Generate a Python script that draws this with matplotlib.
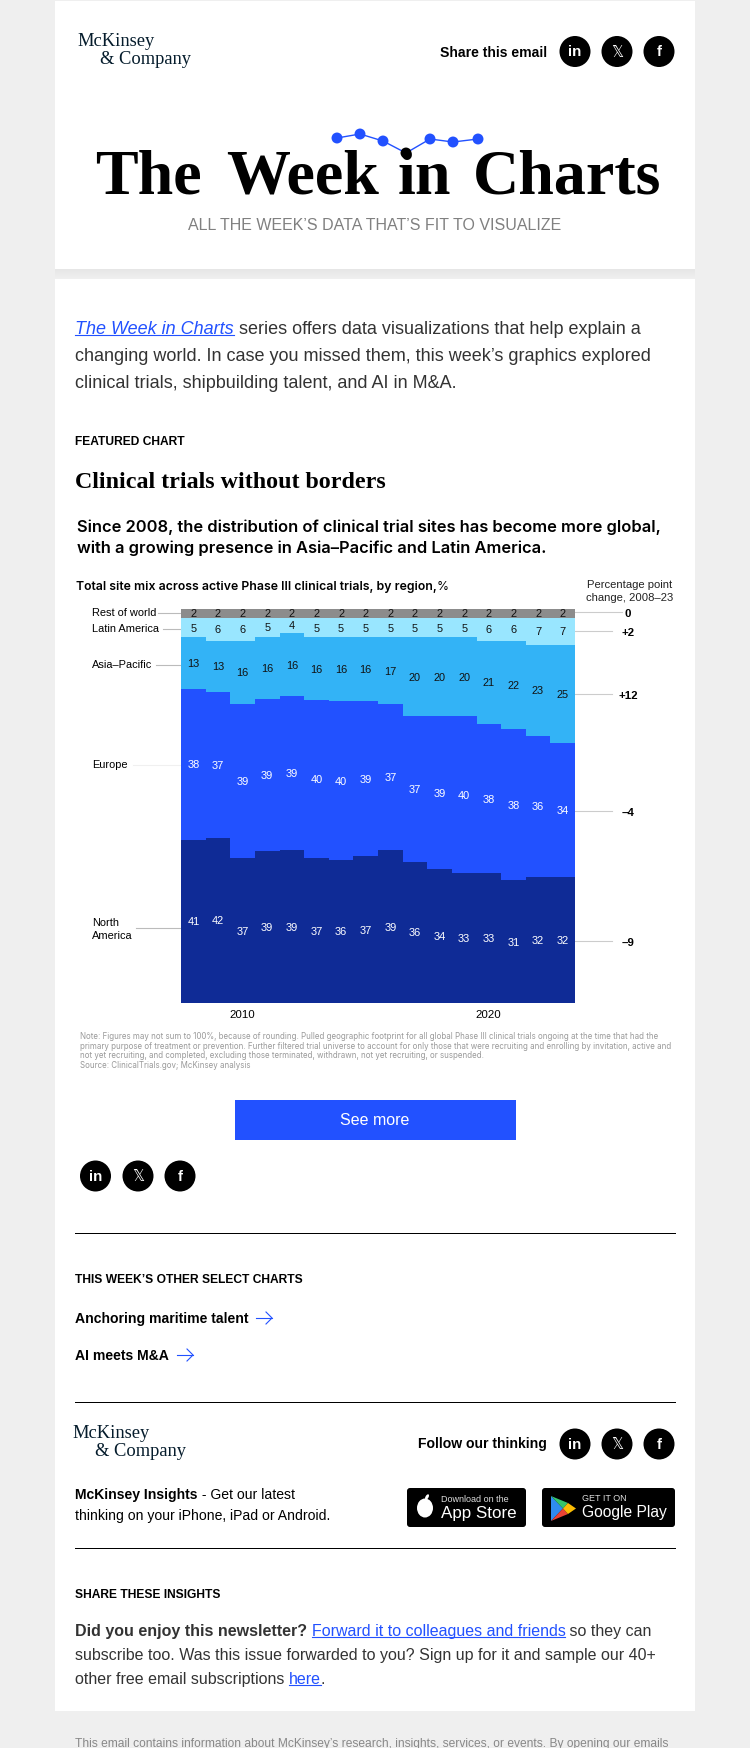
import matplotlib
matplotlib.use('Agg')
import matplotlib.pyplot as plt
from matplotlib.patches import Circle, FancyBboxPatch, Polygon, Rectangle, Ellipse

W, H = 750, 1749

# chart data, share of sites in percent
years = list(range(2008, 2024))
north_america = [41.4, 41.9, 36.8, 38.6, 38.8, 36.8, 36.3, 37.3, 38.8, 35.8, 34.0, 33.0, 33.0, 31.2, 32.0, 32.0]
europe = [38.3, 37.0, 39.1, 38.6, 39.1, 40.1, 40.3, 39.3, 37.1, 37.0, 38.8, 39.8, 37.8, 38.3, 35.8, 34.0]
asia_pacific = [13.1, 13.1, 16.1, 15.8, 16.0, 15.9, 16.2, 16.2, 16.9, 20.0, 20.0, 20.0, 21.2, 22.3, 23.1, 24.9]
latin_america = [5.0, 5.8, 5.8, 4.8, 3.9, 5.0, 5.0, 5.0, 5.0, 5.0, 5.0, 5.0, 5.8, 6.0, 6.9, 6.9]
rest_of_world = [2.2] * 16

north_america_labels = [41, 42, 37, 39, 39, 37, 36, 37, 39, 36, 34, 33, 33, 31, 32, 32]
europe_labels = [38, 37, 39, 39, 39, 40, 40, 39, 37, 37, 39, 40, 38, 38, 36, 34]
asia_pacific_labels = [13, 13, 16, 16, 16, 16, 16, 16, 17, 20, 20, 20, 21, 22, 23, 25]
latin_america_labels = [5, 6, 6, 5, 4, 5, 5, 5, 5, 5, 5, 5, 6, 6, 7, 7]
rest_of_world_labels = [2] * 16

# sparkline over the masthead
spark_x = [337, 360, 383, 406, 430, 453, 478]
spark_y = [139, 135, 142, 154, 140, 143, 140]

SANS = 'Liberation Sans'
SERIF = 'Liberation Serif'
CHART = 'Inter'
BLUE = '#2251ff'


def pt(px):
    return px * 0.72


fig = plt.figure(figsize=(W / 100, H / 100), dpi=100, facecolor='#efefef')
page = fig.add_axes([0, 0, 1, 1])
page.set_xlim(0, W)
page.set_ylim(H, 0)
page.axis('off')


def text(x, y, s, size, color='black', family=SANS, weight='normal', ha='left', style='normal', va='center'):
    return page.text(x, y, s, fontsize=pt(size), color=color, family=family, weight=weight,
                     ha=ha, va=va, style=style)


def runs(x, y, parts, size, color):
    # inline text with mixed styles, drawn on a shared baseline
    renderer = fig.canvas.get_renderer()
    for s, kind in parts:
        weight = 'bold' if kind == 'bold' else 'normal'
        style = 'italic' if kind == 'italic' else 'normal'
        c = BLUE if kind in ('link', 'italic') else color
        t = text(x, y, s, size, color=c, weight=weight, style=style, va='baseline')
        w = t.get_window_extent(renderer).width
        if kind in ('link', 'italic'):
            page.plot([x, x + w], [y + 2, y + 2], color=BLUE, lw=0.8)
        x += w


def logo(x, y):
    text(x, y, 'McKinsey', 18.5, color='#051c2c', family=SERIF)
    text(x + 23, y + 18, '& Company', 18.5, color='#051c2c', family=SERIF)


def social(xs, y):
    for cx, s, fam in zip(xs, ['in', '𝕏', 'f'], [SANS, 'DejaVu Sans', SANS]):
        page.add_patch(Circle((cx, y), 15.5, color='black', lw=0))
        text(cx, y, s, 15, color='white', family=fam, weight='bold' if s != '𝕏' else 'normal', ha='center')


def rule(y):
    page.plot([75, 675], [y, y], color='black', lw=0.72)


def arrow(x, y):
    page.plot([x, x + 16], [y, y], color=BLUE, lw=0.8)
    page.plot([x + 10, x + 16, x + 10], [y - 6, y, y + 6], color=BLUE, lw=0.8)


# page cards
page.add_patch(Rectangle((55, 2), 640, 268, color='white', lw=0))
for i in range(10):
    g = 0.90 + i * 0.004
    page.add_patch(Rectangle((55, 270 + i), 640, 1, color=(g, g, g), lw=0))
page.add_patch(Rectangle((55, 280), 640, 1432, color='white', lw=0))

# masthead
logo(77, 42)
text(547, 53, 'Share this email', 14, weight='bold', ha='right')
social([575, 617, 659], 52.5)
# words placed one by one, the dot of the i sits under the black marker
for x, word in zip([95.5, 226, 398, 473], ['The', 'Week', 'in', 'Charts']):
    text(x, 194, word, 64, family=SERIF, weight='bold', va='baseline')
page.plot(spark_x, spark_y, color=BLUE, lw=1, zorder=4)
page.scatter(spark_x, spark_y, s=62, lw=0, zorder=5,
             c=[BLUE, BLUE, BLUE, 'black', BLUE, BLUE, BLUE])
text(375, 226, 'ALL THE WEEK’S DATA THAT’S FIT TO VISUALIZE', 16, color='#808080', ha='center')

# intro
runs(75, 334, [('The Week in Charts', 'italic'), (' series offers data visualizations that help explain a', 'plain')], 18, '#333333')
text(75, 361, 'changing world. In case you missed them, this week’s graphics explored', 18, color='#333333', va='baseline')
text(75, 388, 'clinical trials, shipbuilding talent, and AI in M&A.', 18, color='#333333', va='baseline')

text(75, 442, 'FEATURED CHART', 12, weight='bold')
text(75, 482, 'Clinical trials without borders', 24, family=SERIF, weight='bold')

# chart headings
text(77, 527, 'Since 2008, the distribution of clinical trial sites has become more global,', 16.45, family=CHART, weight=600)
text(77, 548, 'with a growing presence in Asia–Pacific and Latin America.', 16.45, family=CHART, weight=600)
text(75.5, 587, 'Total site mix across active Phase III clinical trials, by region,', 12.3, family=CHART, weight=600)
text(437, 587, '%', 12.3, family=CHART)
text(630, 585, 'Percentage point', 11.3, ha='center', color='#222222')
text(630, 598, 'change, 2008–23', 11.3, ha='center', color='#222222')

# stacked chart
chart = fig.add_axes([181 / W, 1 - 1004 / H, 394 / W, 394 / H])
series = [north_america, europe, asia_pacific, latin_america, rest_of_world]
labels = [north_america_labels, europe_labels, asia_pacific_labels, latin_america_labels, rest_of_world_labels]
colors = ['#0f2b96', BLUE, '#33b3f6', '#99e6ff', '#8c8c8c']
label_colors = ['white', 'white', '#111111', '#111111', '#111111']
bottom = [0] * 16
for values, labs, c, lc in zip(series, labels, colors, label_colors):
    chart.bar(years, values, width=1.0, bottom=bottom, color=c, lw=0)
    for year, v, b, lab in zip(years, values, bottom, labs):
        chart.text(year, b + v / 2, str(lab), color=lc, ha='center', va='center', family=SANS, fontsize=pt(11))
    bottom = [b + v for b, v in zip(bottom, values)]
chart.set_xlim(2007.5, 2023.5)
chart.set_ylim(0, 100)
chart.set_yticks([])
chart.set_xticks([2010, 2020])
chart.tick_params(axis='x', length=0, pad=4, labelsize=pt(11.5))
for lab in chart.get_xticklabels():
    lab.set_family(SANS)
for s in chart.spines.values():
    s.set_visible(False)

# region labels and leader lines
region_names = ['Rest of world', 'Latin America', 'Asia–Pacific', 'Europe']
region_y = [613, 629, 665, 765]
region_line_x = [158, 163, 156, 133]
region_line_y = [614, 630, 665.5, 766]
for name, y, lx, ly in zip(region_names, region_y, region_line_x, region_line_y):
    text(92, y, name, 11)
    page.plot([lx, 181], [ly, ly], color='#bbbbbb' if name != 'Europe' else '#f0f0f0', lw=0.8)
text(92, 923, 'North', 11)
text(92, 936, 'America', 11)
page.plot([136, 181], [929, 929], color='#bbbbbb', lw=0.8)

change_labels = ['0', '+2', '+12', '–4', '–9']
change_y = [613, 632, 695, 812, 942]
change_end = [622, 612, 612, 612, 612]
for lab, y, e in zip(change_labels, change_y, change_end):
    page.plot([575, e], [y, y], color='#cccccc', lw=0.8)
    text(628, y + 1, lab, 11.5, weight='bold', ha='center')

note_lines = [
    'Note: Figures may not sum to 100%, because of rounding. Pulled geographic footprint for all global Phase III clinical trials ongoing at the time that had the',
    'primary purpose of treatment or prevention. Further filtered trial universe to account for only those that were recruiting and enrolling by invitation, active and',
    'not yet recruiting, and completed, excluding those terminated, withdrawn, not yet recruiting, or suspended.',
    'Source: ClinicalTrials.gov; McKinsey analysis',
]
for y, line in zip([1037, 1047, 1056, 1066], note_lines):
    text(79.5, y, line, 7.95, color='#999999', family=CHART)

# button
page.add_patch(Rectangle((235, 1101), 280.5, 40, color=BLUE, lw=0))
text(375, 1121, 'See more', 16, color='white', ha='center')
social([95.5, 138, 180], 1177)
rule(1234)

text(75, 1280, 'THIS WEEK’S OTHER SELECT CHARTS', 12, weight='bold')
text(75, 1319, 'Anchoring maritime talent', 14, weight='bold')
arrow(256, 1319)
text(75, 1356, 'AI meets M&A', 14, weight='bold')
arrow(177, 1356)
rule(1403)

# footer block
logo(72, 1434)
text(547, 1444, 'Follow our thinking', 14, weight='bold', ha='right')
social([575, 617, 659], 1445)
runs(75, 1499, [('McKinsey Insights', 'bold'), (' - Get our latest', 'plain')], 14, 'black')
text(75, 1520, 'thinking on your iPhone, iPad or Android.', 14, va='baseline')

for x0, x1 in [(407, 526), (542, 675)]:
    page.add_patch(FancyBboxPatch((x0 + 3, 1492), x1 - x0 - 6, 33, boxstyle='round,pad=3', color='black', lw=0))
page.add_patch(Ellipse((425, 1509), 16, 19, color='white', lw=0))
page.add_patch(Ellipse((427, 1498), 3, 6, angle=30, color='white', lw=0))
text(441, 1500, 'Download on the', 9, color='#dddddd')
text(441, 1514, 'App Store', 17, color='white')
page.add_patch(Polygon([(551, 1497), (551, 1522), (563, 1509.5)], color='#2f8bf0', lw=0))
page.add_patch(Polygon([(551, 1497), (563, 1509.5), (568, 1504)], color='#35c46c', lw=0))
page.add_patch(Polygon([(551, 1522), (563, 1509.5), (568, 1515)], color='#ea4335', lw=0))
page.add_patch(Polygon([(568, 1504), (563, 1509.5), (568, 1515), (576, 1509.5)], color='#fbbc04', lw=0))
text(582, 1499, 'GET IT ON', 9, color='#dddddd')
text(582, 1513, 'Google Play', 15.6, color='white')
rule(1549)

text(75, 1595, 'SHARE THESE INSIGHTS', 12, weight='bold')
runs(75, 1636, [('Did you enjoy this newsletter? ', 'bold'), ('Forward it to colleagues and friends', 'link'), (' so they can', 'plain')], 16, '#333333')
text(75, 1660, 'subscribe too. Was this issue forwarded to you? Sign up for it and sample our 40+', 16, color='#333333', va='baseline')
runs(75, 1684, [('other free email subscriptions ', 'plain'), ('here', 'link'), ('.', 'plain')], 16, '#333333')
text(75, 1744, 'This email contains information about McKinsey’s research, insights, services, or events. By opening our emails', 12, color='#888888')

plt.savefig('out.png', dpi=100, facecolor=fig.get_facecolor())
